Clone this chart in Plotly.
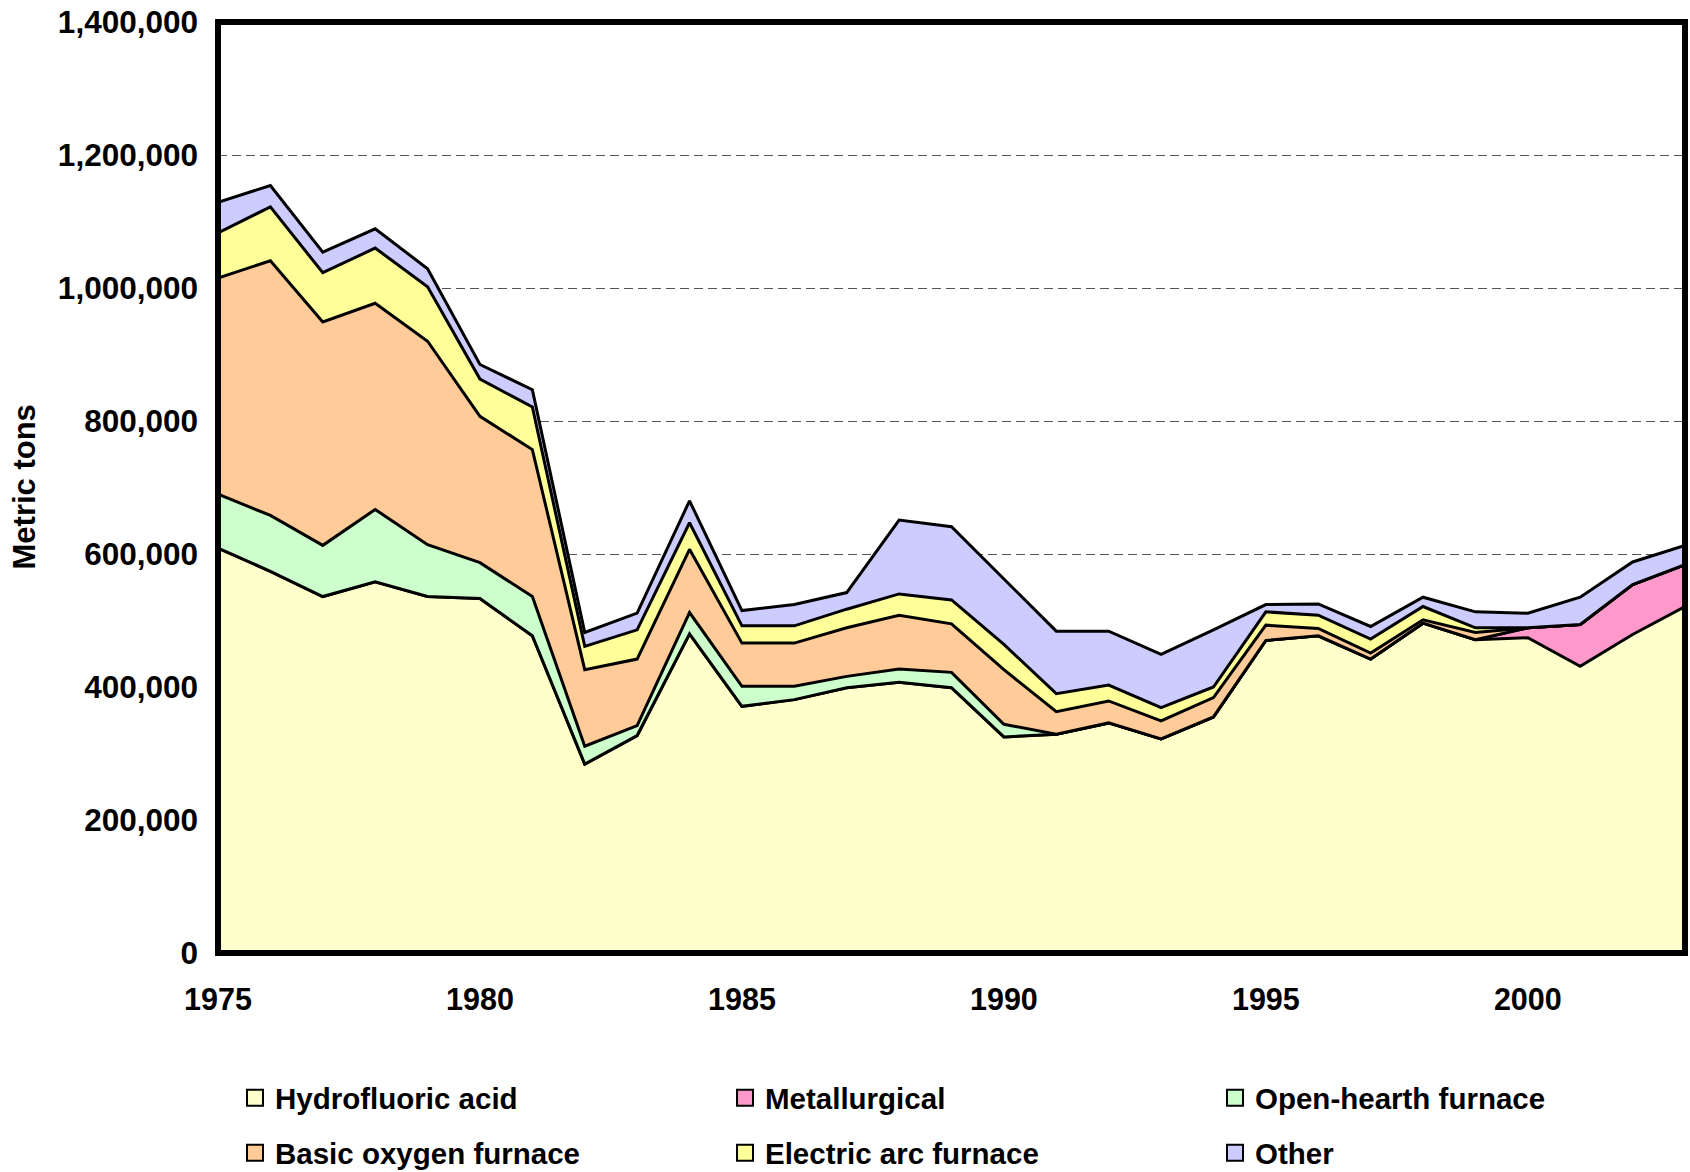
import plotly.graph_objects as go

years = list(range(1975, 2004))

# thousand metric tons
hydrofluoric = [609, 574, 536, 558, 536, 533, 477, 284, 327, 480, 371, 381, 399, 407, 399,
                325, 329, 346, 322, 355, 470, 477, 442, 496, 471, 474, 431, 479, 521]
metallurgical = [0] * 25 + [15, 63, 75, 63]
open_hearth = [81, 84, 77, 109, 78, 54, 59, 27, 15, 32, 30, 20, 17, 20, 23, 19] + [0] * 13
basic_oxygen = [325, 383, 336, 310, 306, 220, 221, 115, 100, 95, 65, 65, 73, 81, 73,
                82, 34, 33, 27, 29, 23, 11, 9, 5, 11, 0, 0, 0, 0]
electric_arc = [68, 81, 74, 83, 82, 56, 64, 35, 44, 40, 26, 26, 28, 32, 36,
                38, 27, 24, 20, 16, 20, 20, 21, 20, 7, 0, 0, 0, 0]
other = [46, 32, 31, 29, 27, 22, 26, 21, 25, 33, 23, 32, 25, 111, 110,
         99, 94, 81, 80, 86, 11, 17, 19, 14, 24, 22, 41, 34, 29]

series_names = ["Hydrofluoric acid", "Metallurgical", "Open-hearth furnace",
                "Basic oxygen furnace", "Electric arc furnace", "Other"]
series_values = [hydrofluoric, metallurgical, open_hearth, basic_oxygen, electric_arc, other]
series_colors = ["#FFFFCC", "#FF99CC", "#CCFFCC", "#FFCC99", "#FFFF99", "#CCCCFF"]

y_ticks = list(range(0, 1400001, 200000))
x_ticks = [1975, 1980, 1985, 1990, 1995, 2000]

FONT = dict(family="Liberation Sans, Arial, sans-serif", color="black", weight="bold")

fig = go.Figure()
for name, vals, col in zip(series_names, series_values, series_colors):
    fig.add_trace(go.Scatter(
        x=years, y=[v * 1000 for v in vals], name=name, mode="lines",
        stackgroup="one", fillcolor=col,
        line=dict(color="black", width=3, shape="linear"),
        showlegend=False, hoverinfo="x+y+name",
    ))

# legend entries (square swatches), two rows of three
for i, (name, col) in enumerate(zip(series_names, series_colors)):
    fig.add_trace(go.Scatter(
        x=[None], y=[None], name=name, mode="markers",
        marker=dict(symbol="square", size=18, color=col, line=dict(color="black", width=2)),
        legend="legend" if i < 3 else "legend2", showlegend=True,
    ))

L, R, T, B = 218, 5, 22, 219
W, H = 1690, 1172
pw, ph = W - L - R, H - T - B

def px_y(py):
    return (H - B - py) / ph

legend_common = dict(
    orientation="h", xanchor="left", yanchor="middle",
    entrywidth=445, entrywidthmode="pixels",
    font=dict(size=29.5, **FONT), bgcolor="rgba(0,0,0,0)", traceorder="normal",
    itemsizing="trace",
)

fig.update_layout(
    width=W, height=H,
    margin=dict(l=L, r=R, t=T, b=B, autoexpand=False),
    paper_bgcolor="white", plot_bgcolor="white",
    font=dict(size=30, **FONT),
    legend=dict(x=(235 - L) / pw, y=px_y(1098), **legend_common),
    legend2=dict(x=(235 - L) / pw, y=px_y(1153), **legend_common),
    xaxis=dict(
        range=[1975, 2003], tickvals=x_ticks, ticktext=[str(v) for v in x_ticks],
        showgrid=False, zeroline=False, showline=False, ticks="",
        tickfont=dict(size=30.5, **FONT), ticklabelstandoff=25,
    ),
    yaxis=dict(
        range=[0, 1400000], tickvals=y_ticks, tickformat=",d",
        showgrid=True, gridcolor="#555555", gridwidth=1.3, griddash="9px,5px",
        zeroline=False, showline=False, ticks="",
        tickfont=dict(size=31.5, **FONT), ticklabelstandoff=19,
    ),
    annotations=[dict(
        text="Metric tons", xref="paper", yref="paper",
        x=(24 - L) / pw, y=0.5, xanchor="center", yanchor="middle",
        textangle=-90, showarrow=False, font=dict(size=31, **FONT),
    )],
    shapes=[dict(
        type="rect", xref="paper", yref="paper", x0=0, x1=1, y0=0, y1=1,
        line=dict(color="black", width=6), layer="above",
    )],
)

fig.write_html(
    "out.html",
    config={"displayModeBar": False},
    post_script="document.body.style.margin='0';document.body.style.padding='0';"
                "document.body.style.overflow='hidden';",
)
